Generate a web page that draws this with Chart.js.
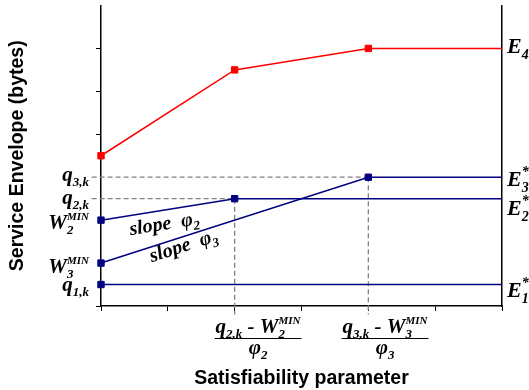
<!DOCTYPE html>
<html>
<head>
<meta charset="utf-8">
<script src="https://cdn.jsdelivr.net/npm/chart.js@4.4.0/dist/chart.umd.min.js"></script>
<style>
  html, body { margin: 0; padding: 0; background: #fff; }
</style>
</head>
<body>
<canvas id="envChart" width="529" height="390"></canvas>
<script>
// --- data (satisfiability parameter on x, envelope on y) ---
const xE4 = [0, 2, 4, 6];
const yE4 = [3.5, 5.5, 6, 6];
const xE3 = [0, 4, 6];
const yE3 = [1, 3, 3];
const xE2 = [0, 2, 6];
const yE2 = [2, 2.5, 2.5];
const xE1 = [0, 6];
const yE1 = [0.5, 0.5];

// dashed helper lines
const xGuideQ3 = [-0.14, 4];
const yGuideQ3 = [3, 3];
const xGuideQ2 = [-0.14, 2];
const yGuideQ2 = [2.5, 2.5];
const xGuideV2 = [2, 2];
const yGuideV2 = [2.5, -0.2];
const xGuideV4 = [4, 4];
const yGuideV4 = [3, -0.2];

// left tick labels: value + pieces (base, sub, sup)
const leftLabels = [
  { v: 3,   dy: 4,  parts: [{ b: 'q', sub: '3,k' }] },
  { v: 2.5, dy: 5,  parts: [{ b: 'q', sub: '2,k' }] },
  { v: 2,   dy: 9,  parts: [{ b: 'W', sub: '2', sup: 'MIN' }] },
  { v: 1,   dy: 10, parts: [{ b: 'W', sub: '3', sup: 'MIN' }] },
  { v: 0.5, dy: 6,  parts: [{ b: 'q', sub: '1,k' }] }
];
// right side labels
const rightLabels = [
  { v: 6,   dy: 5,  parts: [{ b: 'E', sub: '4' }] },
  { v: 3,   dy: 9,  parts: [{ b: 'E', sub: '3', sup: '*' }] },
  { v: 2.5, dy: 16, parts: [{ b: 'E', sub: '2', sup: '*' }] },
  { v: 0.5, dy: 12, parts: [{ b: 'E', sub: '1', sup: '*' }] }
];
// fraction labels under the x axis
const fracLabels = [
  { x: 2.35, num: [{ b: 'q', sub: '2,k' }, { b: ' - W', sub: '2', sup: 'MIN' }], den: [{ b: 'φ', sub: '2' }] },
  { x: 4.25, num: [{ b: 'q', sub: '3,k' }, { b: ' - W', sub: '3', sup: 'MIN' }], den: [{ b: 'φ', sub: '3' }] }
];
// slope annotations (anchor + the segment they follow)
const slopeLabels = [
  { x: 0.96, y: 1.78, seg: [0, 2, 2, 2.5], parts: [{ b: 'slope  ' }, { b: 'φ', sub: '2' }] },
  { x: 1.26, y: 1.27, seg: [0, 1, 4, 3], parts: [{ b: 'slope  ' }, { b: 'φ', sub: '3' }] }
];

const pts = (xs, ys) => xs.map((x, i) => ({ x: x, y: ys[i] }));

const RED = '#ff0000';
const BLUE = '#000080';
const DASH = '#808080';
const SERIF = '"Liberation Serif", "DejaVu Serif", serif';
const f = size => 'italic bold ' + size + 'px ' + SERIF;

// draw text made of base + subscript/superscript pieces
function drawRich(ctx, parts, x, y, align, fonts) {
  const widths = parts.map(p => {
    ctx.font = fonts.big;
    const wb = ctx.measureText(p.b || '').width;
    ctx.font = fonts.sub;
    const ws = ctx.measureText(p.sub || '').width;
    ctx.font = fonts.sup;
    const wp = ctx.measureText(p.sup || '').width;
    return { wb: wb, wx: Math.max(ws, wp) };
  });
  const w = widths.reduce((a, m) => a + m.wb + m.wx, 0);
  let cx = align === 'right' ? x - w : (align === 'center' ? x - w / 2 : x);
  ctx.textAlign = 'left';
  ctx.textBaseline = 'alphabetic';
  parts.forEach((p, i) => {
    ctx.font = fonts.big;
    ctx.fillText(p.b || '', cx, y);
    cx += widths[i].wb;
    if (p.sub) { ctx.font = fonts.sub; ctx.fillText(p.sub, cx, y + fonts.subDy); }
    if (p.sup) { ctx.font = fonts.sup; ctx.fillText(p.sup, cx, y - fonts.supDy); }
    cx += widths[i].wx;
  });
  return w;
}

const labelPlugin = {
  id: 'labelPlugin',
  afterDraw(chart) {
    const ctx = chart.ctx;
    const xs = chart.scales.x;
    const ys = chart.scales.y;
    const area = chart.chartArea;
    ctx.save();
    ctx.fillStyle = '#000';

    const leftFonts = { big: f(21), sub: f(13), sup: f(11), subDy: 5, supDy: 9 };
    leftLabels.forEach(l => {
      const y = ys.getPixelForValue(l.v) + l.dy;
      drawRich(ctx, l.parts, area.left - 12, y, 'right', leftFonts);
    });

    const rightFonts = { big: f(22), sub: f(14), sup: f(14), subDy: 6, supDy: 10 };
    rightLabels.forEach(l => {
      const y = ys.getPixelForValue(l.v) + l.dy;
      drawRich(ctx, l.parts, area.right + 5, y, 'left', rightFonts);
    });

    const fracFonts = { big: f(21), sub: f(13), sup: f(11), subDy: 5, supDy: 9 };
    fracLabels.forEach(fr => {
      const cx = xs.getPixelForValue(fr.x);
      const w = drawRich(ctx, fr.num, cx, area.bottom + 27, 'center', fracFonts);
      ctx.strokeStyle = '#000';
      ctx.lineWidth = 1.2;
      ctx.beginPath();
      ctx.moveTo(cx - w / 2 - 1, area.bottom + 32.5);
      ctx.lineTo(cx + w / 2 + 1, area.bottom + 32.5);
      ctx.stroke();
      drawRich(ctx, fr.den, cx, area.bottom + 48, 'center', fracFonts);
    });

    const slopeFonts = { big: f(20), sub: f(13), sup: f(13), subDy: 5, supDy: 9 };
    slopeLabels.forEach(s => {
      const x0 = xs.getPixelForValue(s.seg[0]), y0 = ys.getPixelForValue(s.seg[1]);
      const x1 = xs.getPixelForValue(s.seg[2]), y1 = ys.getPixelForValue(s.seg[3]);
      const ang = Math.atan2(y1 - y0, x1 - x0);
      ctx.save();
      ctx.translate(xs.getPixelForValue(s.x), ys.getPixelForValue(s.y));
      ctx.rotate(ang);
      drawRich(ctx, s.parts, 0, 0, 'center', slopeFonts);
      ctx.restore();
    });
    ctx.restore();
  }
};

const lineSet = (xs, ys, color, radii) => ({
  data: pts(xs, ys),
  borderColor: color,
  backgroundColor: color,
  borderWidth: 1.5,
  pointStyle: 'rect',
  pointRadius: radii,
  pointBorderWidth: 1,
  pointBorderColor: color,
  clip: false,
  tension: 0
});
const guideSet = (xs, ys) => ({
  data: pts(xs, ys),
  borderColor: DASH,
  borderWidth: 1.3,
  borderDash: [5, 3],
  pointRadius: 0,
  clip: false,
  tension: 0
});

const ctx = document.getElementById('envChart').getContext('2d');
new Chart(ctx, {
  type: 'line',
  data: {
    datasets: [
      lineSet(xE4, yE4, RED, [4.5, 4.5, 4.5, 0]),
      lineSet(xE3, yE3, BLUE, [4.5, 4.5, 0]),
      lineSet(xE2, yE2, BLUE, [4.5, 4.5, 0]),
      lineSet(xE1, yE1, BLUE, [4.5, 0]),
      guideSet(xGuideQ3, yGuideQ3),
      guideSet(xGuideQ2, yGuideQ2),
      guideSet(xGuideV2, yGuideV2),
      guideSet(xGuideV4, yGuideV4)
    ]
  },
  options: {
    responsive: false,
    animation: false,
    layout: { padding: { top: 3, right: 0, bottom: 0, left: 0 } },
    plugins: {
      legend: { display: false },
      tooltip: { enabled: false }
    },
    scales: {
      x: {
        type: 'linear',
        min: 0,
        max: 6,
        ticks: { stepSize: 1, display: false },
        grid: { drawOnChartArea: false, drawTicks: true, tickLength: 5, color: '#000', lineWidth: 1 },
        border: { display: true, color: '#000', width: 1.5 },
        title: {
          display: true,
          text: 'Satisfiability parameter',
          color: '#000',
          font: { family: '"Liberation Sans", Arial, sans-serif', size: 19.5, weight: 'bold' },
          padding: { top: 2, bottom: 0 }
        },
        afterFit: s => { s.height = 84; }
      },
      y: {
        position: 'left',
        min: 0,
        max: 7,
        ticks: { stepSize: 1, display: false },
        grid: {
          drawOnChartArea: false,
          drawTicks: true,
          tickLength: 5,
          color: '#000',
          tickColor: c => ([0, 4, 5, 6].includes(c.tick.value) ? '#000' : 'rgba(0,0,0,0)')
        },
        border: { display: true, color: '#000', width: 1.5 },
        title: {
          display: true,
          text: 'Service Envelope (bytes)',
          color: '#000',
          font: { family: '"Liberation Sans", Arial, sans-serif', size: 19.5, weight: 'bold' },
          padding: { top: 6, bottom: 0 }
        },
        afterFit: s => { s.width = 101; }
      },
      y2: {
        position: 'right',
        min: 0,
        max: 7,
        ticks: { display: false },
        grid: { display: false },
        border: { display: true, color: '#000', width: 1.5 },
        afterFit: s => { s.width = 27; }
      }
    }
  },
  plugins: [labelPlugin]
});
</script>
</body>
</html>
